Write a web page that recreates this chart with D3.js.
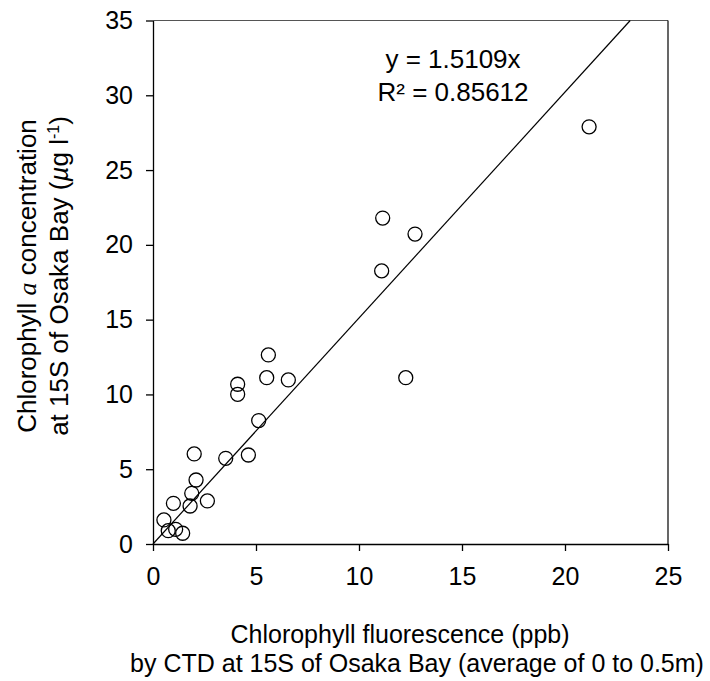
<!DOCTYPE html>
<html>
<head>
<meta charset="utf-8">
<script src="https://cdn.jsdelivr.net/npm/d3@7"></script>
<style>
  html, body { margin: 0; padding: 0; background: #fff; }
  svg { display: block; font-family: "Liberation Sans", Arial, Helvetica, sans-serif; }
</style>
</head>
<body>
<svg id="chart" width="710" height="681"></svg>
<script>
// Chlorophyll fluorescence (CTD, ppb) vs extracted chlorophyll a (µg/l), station 15S
const fluorescence = [21.17, 12.72, 11.15, 11.10, 12.27, 6.57, 5.60, 5.52, 4.11, 4.11, 5.13, 4.63, 3.53, 2.00, 2.09, 1.88, 2.64, 1.80, 0.99, 0.53, 0.74, 1.10, 1.44];
const chlorophyllA = [27.89, 20.72, 21.79, 18.26, 11.12, 10.97, 12.64, 11.12, 10.68, 10.01, 8.25, 5.95, 5.73, 6.02, 4.28, 3.39, 2.88, 2.54, 2.72, 1.61, 0.89, 0.98, 0.72];

const xTicks = [0, 5, 10, 15, 20, 25];
const yTicks = [0, 5, 10, 15, 20, 25, 30, 35];

// Linear fit through the origin
const slope = 1.5109;
const rSquared = "0.85612";

const W = 710, H = 681;
const margin = { top: 20.5, right: 42, bottom: 137, left: 153 };

const svg = d3.select("#chart");

const x = d3.scaleLinear().domain([0, 25]).range([margin.left, W - margin.right]);
const y = d3.scaleLinear().domain([0, 35]).range([H - margin.bottom, margin.top]);

// Plot frame (top and right edges)
svg.append("line")
  .attr("x1", x(0)).attr("x2", x(25))
  .attr("y1", y(35)).attr("y2", y(35))
  .attr("stroke", "#555").attr("stroke-width", 1.2);
svg.append("line")
  .attr("x1", x(25)).attr("x2", x(25))
  .attr("y1", y(35)).attr("y2", y(0))
  .attr("stroke", "#000").attr("stroke-width", 1.2);

// Axes
const xAxis = svg.append("g")
  .attr("transform", `translate(0,${y(0)})`)
  .call(d3.axisBottom(x).tickValues(xTicks).tickSize(7).tickSizeOuter(0).tickPadding(16).tickFormat(d3.format("d")));
const yAxis = svg.append("g")
  .attr("transform", `translate(${x(0)},0)`)
  .call(d3.axisLeft(y).tickValues(yTicks).tickSize(7).tickSizeOuter(0).tickPadding(13).tickFormat(d3.format("d")));

[xAxis, yAxis].forEach(g => {
  g.selectAll(".domain").attr("stroke", "#000").attr("stroke-width", 1.3);
  g.selectAll(".tick line").attr("stroke", "#000").attr("stroke-width", 1.3);
  g.selectAll(".tick text")
    .attr("fill", "#000")
    .style("font-size", "25px")
    .style("font-family", "'Liberation Sans', Arial, Helvetica, sans-serif");
});

// Regression line y = slope * x, from the origin to the top of the plot
const fitX = [0, 35 / slope];
svg.append("path")
  .datum(fitX)
  .attr("d", d3.line().x(d => x(d)).y(d => y(slope * d)))
  .attr("fill", "none")
  .attr("stroke", "#000")
  .attr("stroke-width", 1.2);

// Observations
svg.append("g")
  .selectAll("circle")
  .data(fluorescence.map((v, i) => [v, chlorophyllA[i]]))
  .join("circle")
  .attr("cx", d => x(d[0]))
  .attr("cy", d => y(d[1]))
  .attr("r", 7)
  .attr("fill", "none")
  .attr("stroke", "#000")
  .attr("stroke-width", 1.3);

// Fit equation
const eq = svg.append("g").attr("text-anchor", "middle").style("font-size", "26px").attr("fill", "#000");
eq.append("text").attr("x", 453).attr("y", 68).text(`y = ${slope}x`);
eq.append("text").attr("x", 453).attr("y", 101).text(`R² = ${rSquared}`);

// X axis title
const xt = svg.append("g").attr("text-anchor", "middle").style("font-size", "25px").attr("fill", "#000");
xt.append("text").attr("x", 400).attr("y", 643).text("Chlorophyll fluorescence (ppb)");
xt.append("text").attr("x", 417).attr("y", 672).text("by CTD at 15S of Osaka Bay (average of 0 to 0.5m)");

// Y axis title (two rotated lines)
const yt = svg.append("g")
  .attr("transform", "translate(0,276) rotate(-90)")
  .attr("text-anchor", "middle")
  .style("font-size", "26px")
  .attr("fill", "#000");
const l1 = yt.append("text").attr("x", 0).attr("y", 36);
l1.append("tspan").text("Chlorophyll ");
l1.append("tspan").style("font-family", "'Liberation Serif', 'Times New Roman', serif").style("font-style", "italic").text("a");
l1.append("tspan").text(" concentration");
const l2 = yt.append("text").attr("x", 0).attr("y", 68);
l2.append("tspan").text("at 15S of Osaka Bay (");
l2.append("tspan").style("font-style", "italic").text("µ");
l2.append("tspan").text("g l");
l2.append("tspan").attr("dy", -9).style("font-size", "16px").text("-1");
l2.append("tspan").attr("dy", 9).text(")");
</script>
</body>
</html>
